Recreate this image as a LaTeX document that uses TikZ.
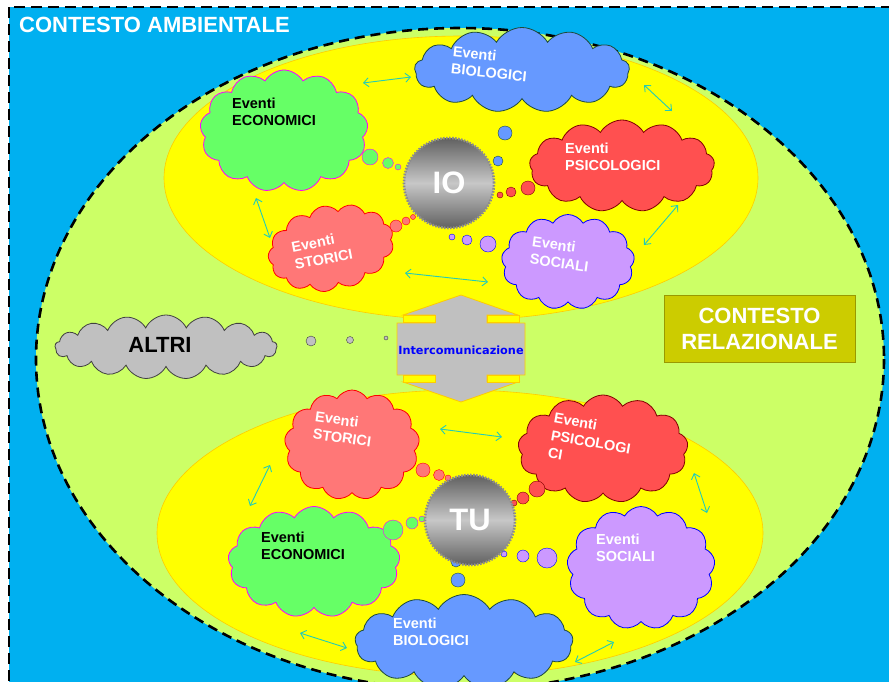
\documentclass[tikz,border=0pt]{standalone}
\usepackage{fontspec}
\setmainfont{Liberation Sans}
\newfontfamily\verdana{DejaVu Sans}
\usetikzlibrary{arrows.meta,shapes.symbols}
\definecolor{skybg}{HTML}{00B0F0}
\definecolor{limebg}{HTML}{CCFF66}
\definecolor{yolk}{HTML}{FFFF00}
\definecolor{yolkline}{HTML}{FFCC00}
\definecolor{linkc}{HTML}{22CCB8}
\definecolor{biofill}{HTML}{6699FF}
\definecolor{bioline}{HTML}{1E4A3A}
\definecolor{ecofill}{HTML}{66FF66}
\definecolor{ecoline}{HTML}{FF00FF}
\definecolor{psifill}{HTML}{FF5050}
\definecolor{psiline}{HTML}{800000}
\definecolor{stofill}{HTML}{FF7777}
\definecolor{stoline}{HTML}{FF0000}
\definecolor{socfill}{HTML}{CC99FF}
\definecolor{socline}{HTML}{0000FF}
\definecolor{otherfill}{HTML}{C0C0C0}
\definecolor{olive}{HTML}{CCCC00}
\definecolor{oliveline}{HTML}{999900}
\tikzset{>={Straight Barb[length=5pt,width=9pt]},
  every node/.style={inner sep=0pt},
  puffy/.style={cloud,cloud puffs=13,cloud puff arc=120,cloud ignores aspect,line width=.8pt},
  cbio/.style={fill=biofill,draw=bioline},
  ceco/.style={fill=ecofill,draw=ecoline},
  cpsi/.style={fill=psifill,draw=psiline},
  csto/.style={fill=stofill,draw=stoline},
  csoc/.style={fill=socfill,draw=socline},
  cother/.style={fill=otherfill,draw=black!75},
  evt/.style={font=\bfseries\fontsize{14.5}{17.5}\selectfont,align=left,anchor=west,text=white},
  link/.style={<->,draw=linkc,line width=.9pt},
  ego/.style={circle,minimum size=90pt,top color=black!62,bottom color=black!62,middle color=black!22,
    draw=black!45,line width=2.6pt,dash pattern=on 1.6pt off 1.4pt,text=white,
    font=\bfseries\fontsize{31}{31}\selectfont},
  yolkzone/.style={fill=yolk,draw=yolkline,line width=.6pt}}
\begin{document}
\begin{tikzpicture}[x=1pt,y=-1pt]
\useasboundingbox (0,0) rectangle (889,681);
\clip (0,0) rectangle (889,681);
\fill[white] (0,0) rectangle (889,681);
\draw[fill=skybg,line width=2.8pt,dash pattern=on 11pt off 6pt] (9,7) rectangle (905,700);
\node[anchor=west,text=white,font=\bfseries\fontsize{22}{22}\selectfont] (amb) at (19,25) {CONTESTO AMBIENTALE};
\draw[fill=limebg,line width=2.6pt,dash pattern=on 10pt off 6pt] (460,359) ellipse [x radius=424,y radius=331];
\draw[yolkzone] (461,178) ellipse [x radius=297,y radius=142];
\draw[yolkzone] (460,533) ellipse [x radius=303,y radius=143];
% freccia di intercomunicazione
\draw[fill=otherfill,draw=yolkline,line width=.8pt] (461,295)--(518,315)--(487,315)--(487,323)--(525,323)--(525,375)--(487,375)--(487,382)--(518,382)--(461,402)--(403,382)--(435,382)--(435,375)--(397,375)--(397,323)--(435,323)--(435,315)--(403,315)--cycle;
\foreach \xa/\ya in {403/315,487/315,403/375,487/375} \draw[yolkzone] (\xa,\ya) rectangle ++(32,7.5);
\node[text=socline,font=\verdana\bfseries\fontsize{11.3}{12}\selectfont] (inter) at (461,350) {Intercomunicazione};
\node[draw=oliveline,fill=olive,line width=.8pt,minimum width=191pt,minimum height=67pt,align=center,text=white,
  font=\bfseries\fontsize{22}{26}\selectfont] (rel) at (759.5,328.5) {CONTESTO\\RELAZIONALE};
% altri
\node[puffy,cloud puffs=17,cloud puff arc=130,cother,minimum width=222pt,minimum height=64pt] (altri) at (166,347) {};
\node[font=\bfseries\fontsize{22}{22}\selectfont] (altrit) at (160,345) {ALTRI};
\draw[cother] (311,341) circle[radius=5] (350,340) circle[radius=3.5] (386,338) circle[radius=2];
% IO
\node[puffy,cbio,minimum width=215pt,minimum height=85pt] (bio1) at (522,70) {};
\node[puffy,ceco,minimum width=168pt,minimum height=122pt] (eco1) at (284,131) {};
\node[puffy,cpsi,minimum width=185pt,minimum height=92pt] (psi1) at (622,166) {};
\node[puffy,csto,minimum width=127pt,minimum height=85pt,rotate=12] (sto1) at (331,248) {};
\node[puffy,csoc,minimum width=133pt,minimum height=95pt] (soc1) at (568,262) {};
\draw[ceco] (370,157) circle[radius=8] (388,163) circle[radius=5.5] (398,167) circle[radius=3];
\draw[csto] (396,226) circle[radius=6] (406,221) circle[radius=4] (413,217) circle[radius=2.5];
\draw[cpsi] (528,188) circle[radius=7] (511,192) circle[radius=5] (500,195) circle[radius=3];
\draw[cbio] (505,133) circle[radius=7] (498,161) circle[radius=5];
\draw[csoc] (488,244) circle[radius=8] (467,240) circle[radius=5] (452,237) circle[radius=3];
\node[ego] (io) at (449,183) {IO};
\node[evt,rotate=-6] (bio1t) at (452,60) {Eventi\\BIOLOGICI};
\node[evt,text=black] (eco1t) at (232,112) {Eventi\\ECONOMICI};
\node[evt] (psi1t) at (565,157) {Eventi\\PSICOLOGICI};
\node[evt,rotate=11] (sto1t) at (293,256) {Eventi\\STORICI};
\node[evt,rotate=-8] (soc1t) at (531,250) {Eventi\\SOCIALI};
% TU
\node[puffy,csto,minimum width=135pt,minimum height=110pt] (sto2) at (352,445) {};
\node[puffy,cpsi,minimum width=170pt,minimum height=108pt] (psi2) at (603,449) {};
\node[puffy,ceco,minimum width=172pt,minimum height=111pt] (eco2) at (314,562) {};
\node[puffy,csoc,minimum width=148pt,minimum height=123pt] (soc2) at (641,568) {};
\node[puffy,cbio,minimum width=218pt,minimum height=95pt] (bio2) at (464,642) {};
\draw[csto] (423,470) circle[radius=7] (439,475) circle[radius=5.5] (448,478) circle[radius=3];
\draw[cpsi] (537,489) circle[radius=8] (523,498) circle[radius=6] (514,503) circle[radius=3];
\draw[ceco] (393,530) circle[radius=10] (412,523) circle[radius=6] (422,519) circle[radius=3];
\draw[csoc] (504,554) circle[radius=3] (523,556) circle[radius=6] (547,558) circle[radius=10];
\draw[cbio] (456,562) circle[radius=5] (458,580) circle[radius=7];
\node[ego] (tu) at (470,520) {TU};
\node[evt,rotate=-8] (sto2t) at (314,425) {Eventi\\STORICI};
\node[evt,rotate=-10] (psi2t) at (551,435) {Eventi\\PSICOLOGI\\CI};
\node[evt,text=black] (eco2t) at (261,546) {Eventi\\ECONOMICI};
\node[evt] (soc2t) at (596,548) {Eventi\\SOCIALI};
\node[evt] (bio2t) at (393,632) {Eventi\\BIOLOGICI};
% frecce tra gli eventi
\coordinate (eb1) at (363,83); \coordinate (be1) at (411,77);
\coordinate (bp1) at (644,85); \coordinate (pb1) at (672,111);
\coordinate (es1) at (256,198); \coordinate (se1) at (270,238);
\coordinate (ps1) at (678,205); \coordinate (sp1) at (644,245);
\coordinate (so1) at (405,273); \coordinate (os1) at (488,282);
\coordinate (sp2) at (440,429); \coordinate (ps2) at (502,437);
\coordinate (se2) at (270,465); \coordinate (es2) at (250,506);
\coordinate (po2) at (694,473); \coordinate (op2) at (707,513);
\coordinate (eb2) at (300,633); \coordinate (be2) at (347,648);
\coordinate (ob2) at (614,642); \coordinate (bo2) at (575,662);
\foreach \a/\b in {eb1/be1,bp1/pb1,es1/se1,ps1/sp1,so1/os1,sp2/ps2,se2/es2,po2/op2,eb2/be2,ob2/bo2}
  \draw[link] (\a)--(\b);
\end{tikzpicture}
\end{document}
